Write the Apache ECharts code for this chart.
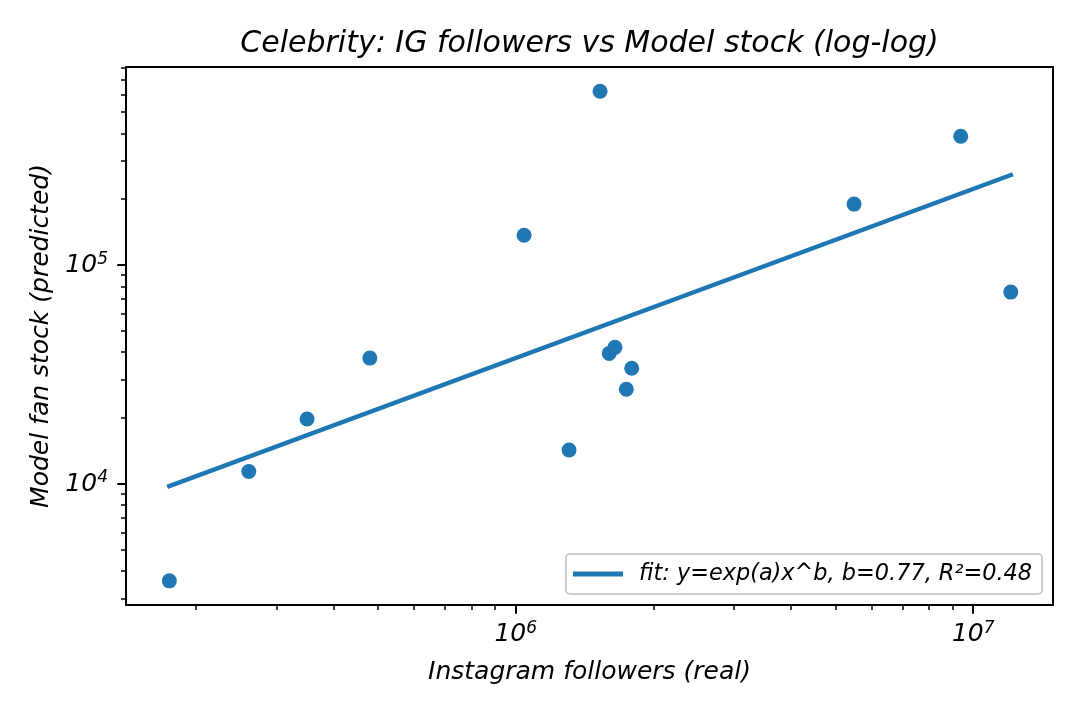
<!DOCTYPE html>
<html><head><meta charset="utf-8">
<script src="https://cdn.jsdelivr.net/npm/echarts@6/dist/echarts.min.js"></script>
<style>html,body{margin:0;padding:0;background:#fff}#c{width:1080px;height:720px}</style>
</head><body><div id="c"></div>
<script>
// ---- data ----
const igFollowers = [175000, 261000, 350000, 480000, 1043000, 1308000, 1529000, 1601000, 1648000, 1745000, 1793000, 5490000, 9390000, 12080000];
const modelStock  = [3610, 11400, 19800, 37600, 137000, 14300, 623000, 39500, 42100, 27100, 33800, 190000, 388000, 75300];
const fitX = [175000, 12080000];
const fitY = [9790, 258000];
const fitLabel = 'fit: y=exp(a)x^b, b=0.77, R²=0.48';
const xRange = [1.407e5, 1.494e7];
const yRange = [2.80e3, 8.04e5];
const xMajorTicks = [1e6, 1e7];
const yMajorTicks = [1e4, 1e5];
const titleText = 'Celebrity: IG followers vs Model stock (log-log)';
const xName = 'Instagram followers (real)';
const yName = 'Model fan stock (predicted)';

// ---- helpers ----
const L = Math.log10;
function minorTicks(range) {
  const out = [];
  for (let e = Math.floor(L(range[0])); e <= Math.ceil(L(range[1])); e++) {
    for (let k = 2; k <= 9; k++) {
      const v = k * Math.pow(10, e);
      if (v >= range[0] && v <= range[1]) out.push(L(v));
    }
  }
  return out;
}
const FONT = 'DejaVu Sans';
const BLUE = '#1f77b4';
const richLabel = {
  b: {fontSize: 25, lineHeight: 25, fontFamily: FONT, fontStyle: 'italic', color: '#000', verticalAlign: 'bottom'},
  s: {fontSize: 17, lineHeight: 17, fontFamily: FONT, fontStyle: 'italic', color: '#000', verticalAlign: 'bottom', padding: [0, 0, 10, 0]}
};
const fmt = v => '{b|10}{s|' + Math.round(v) + '}';
const nameStyle = {fontSize: 25, fontFamily: FONT, fontStyle: 'italic', color: '#000'};

function majorAxis(range, ticks, extra) {
  return Object.assign({
    type: 'value', gridIndex: 0,
    min: L(range[0]), max: L(range[1]),
    axisLine: {show: true, onZero: false, lineStyle: {color: '#000', width: 2}},
    axisTick: {show: true, inside: false, length: 8.75, lineStyle: {color: '#000', width: 2}, customValues: ticks.map(L)},
    axisLabel: {show: true, customValues: ticks.map(L), formatter: fmt, rich: richLabel},
    splitLine: {show: false}, minorTick: {show: false}, minorSplitLine: {show: false}
  }, extra);
}
function minorAxis(range, extra) {
  return Object.assign({
    type: 'value', gridIndex: 0,
    min: L(range[0]), max: L(range[1]),
    axisLine: {show: false, onZero: false},
    axisTick: {show: true, inside: false, length: 5, lineStyle: {color: '#000', width: 1.5}, customValues: minorTicks(range)},
    axisLabel: {show: false},
    splitLine: {show: false}
  }, extra);
}

const chart = echarts.init(document.getElementById('c'), null, {renderer: 'canvas'});
chart.setOption({
  animation: false,
  backgroundColor: '#fff',
  title: {
    text: titleText, left: 589.5, top: 29, textAlign: 'center', padding: 0,
    textStyle: {fontSize: 30, fontFamily: FONT, fontStyle: 'italic', fontWeight: 'normal', color: '#000'}
  },
  grid: {
    left: 126, top: 67, right: 27, bottom: 115, containLabel: false, outerBoundsMode: 'none',
    show: true, borderColor: '#000', borderWidth: 2, backgroundColor: 'transparent'
  },
  legend: {
    show: true, left: 566, top: 554, orient: 'horizontal',
    data: [{name: fitLabel, icon: 'rect'}],
    itemWidth: 50, itemHeight: 5,
    padding: [9, 10, 9, 7],
    backgroundColor: 'rgba(255,255,255,0.8)', borderColor: '#cccccc', borderWidth: 2, borderRadius: 4,
    textStyle: {fontSize: 22.4, fontFamily: FONT, fontStyle: 'italic', color: '#000', padding: [0, 0, 0, 11]},
    selectedMode: false
  },
  xAxis: [
    majorAxis(xRange, xMajorTicks, {position: 'bottom', name: xName, nameLocation: 'middle', nameGap: 55, nameTextStyle: nameStyle,
      axisLabel: {show: true, customValues: xMajorTicks.map(L), formatter: fmt, rich: richLabel, margin: 17}}),
    minorAxis(xRange, {position: 'bottom'})
  ],
  yAxis: [
    majorAxis(yRange, yMajorTicks, {position: 'left', name: yName, nameLocation: 'middle', nameGap: 70, nameRotate: 90, nameTextStyle: nameStyle,
      axisLabel: {show: true, customValues: yMajorTicks.map(L), formatter: fmt, rich: richLabel, margin: 18}}),
    minorAxis(yRange, {position: 'left'})
  ],
  series: [
    {
      type: 'scatter', name: 'data', xAxisIndex: 0, yAxisIndex: 0,
      symbol: 'circle', symbolSize: 15,
      itemStyle: {color: BLUE, opacity: 1},
      data: igFollowers.map((x, i) => [L(x), L(modelStock[i])]),
      z: 2
    },
    {
      type: 'line', name: fitLabel, xAxisIndex: 0, yAxisIndex: 0,
      showSymbol: false, symbol: 'none',
      lineStyle: {color: BLUE, width: 4.5, cap: 'square'},
      itemStyle: {color: BLUE},
      data: fitX.map((x, i) => [L(x), L(fitY[i])]),
      z: 3
    }
  ]
});
</script>
</body></html>
